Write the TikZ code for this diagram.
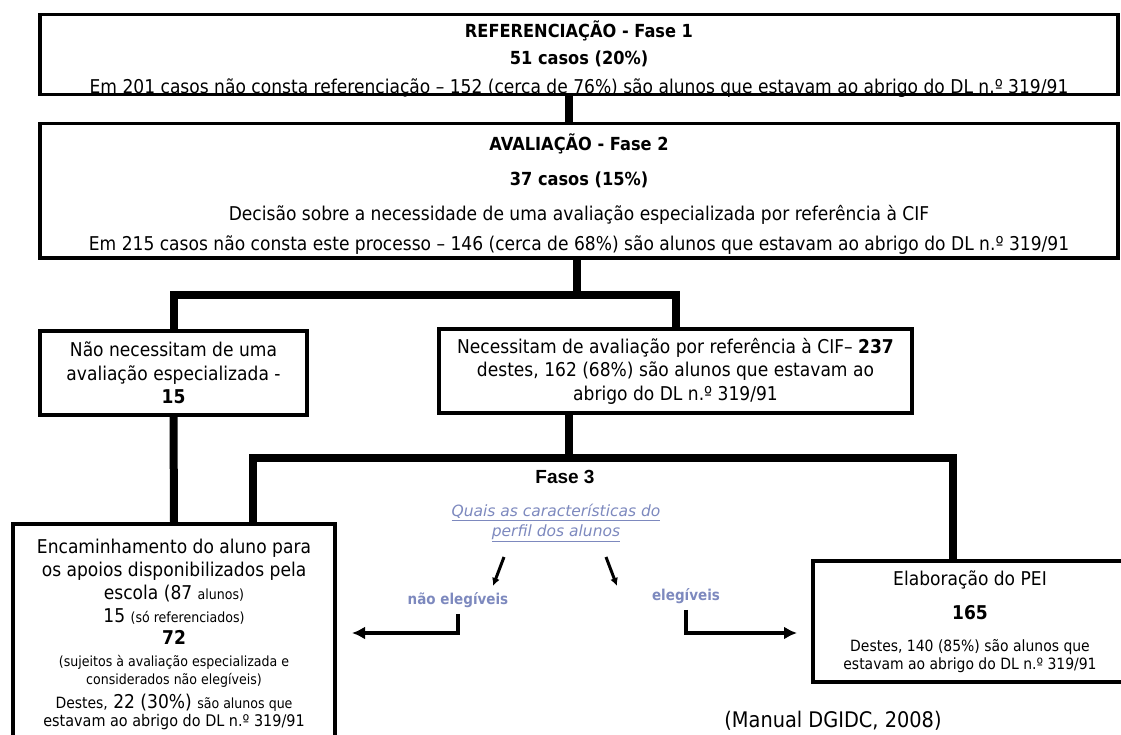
\documentclass[tikz,border=0pt]{standalone}
\usepackage{fontspec}
\setmainfont{DejaVu Sans}[FakeStretch=0.9]
\newfontfamily\arialfont{Liberation Sans}
\newfontfamily\wideit{DejaVu Sans}
\usepackage{xcolor}
\usepackage{tikz}
\usetikzlibrary{arrows}
\usetikzlibrary{arrows.meta}
\tikzset{>=latex}
\definecolor{steel}{RGB}{125,137,190}
\newcommand{\fbase}{\fontsize{19}{23.5}\selectfont}
\newcommand{\fhead}{\fontsize{18}{23.5}\selectfont}
\newcommand{\fmid}{\fontsize{16}{19}\selectfont}
\newcommand{\fnote}{\fontsize{15.5}{19}\selectfont}
\newcommand{\ftiny}{\fontsize{14}{17}\selectfont}
\tikzstyle{box} = [draw, line width=3.5pt, align=center, inner sep=0pt, font=\fbase]
\tikzstyle{bar} = [-, line width=8pt]
\tikzstyle{elbow} = [-{Latex[length=13pt, width=13pt]}, line width=4pt]
\tikzstyle{pick} = [-{Latex[length=8pt, width=8pt]}, line width=3pt]
\tikzstyle{note} = [draw = none, inner sep = 1, text = steel, font=\fontsize{15}{18}\selectfont\bfseries]

\begin{document}
\begin{tikzpicture}[x=1pt, y=-1pt]
\useasboundingbox (0,0) rectangle (1121,735);
\clip (0,0) rectangle (1121,735);
\node [box, minimum width=1078, minimum height=80] (ref) at (579,54.6) {\rule{0pt}{21pt}{\fhead\textbf{REFERENCIAÇÃO - Fase 1}}\\[3.5pt] {\fhead\textbf{51 casos (20\%)}}\\[5.5pt] \smash{Em 201 casos não consta referenciação – 152 (cerca de 76\%) são alunos que estavam ao abrigo do DL n.º 319/91}};
\node [box, minimum width=1078, minimum height=134.5] (aval) at (579,191) {\rule{0pt}{22pt}{\fhead\textbf{AVALIAÇÃO - Fase 2}}\\[11.5pt] {\fhead\textbf{37 casos (15\%)}}\\[11.5pt] Decisão sobre a necessidade de uma avaliação especializada por referência à CIF\\[6.5pt] Em 215 casos não consta este processo – 146 (cerca de 68\%) são alunos que estavam ao abrigo do DL n.º 319/91};
\node [box, minimum width=267, minimum height=84] (nao) at (173.5,373) {Não necessitam de uma\\ avaliação especializada -\\ \textbf{15}};
\node [box, minimum width=473, minimum height=84] (nec) at (675.5,371) {Necessitam de avaliação por referência à CIF– \textbf{237}\\ destes, 162 (68\%) são alunos que estavam ao\\ abrigo do DL n.º 319/91};
\node [box, minimum width=322, minimum height=221] (enc) at (174,634.5) {Encaminhamento do aluno para\\[-0.5pt] os apoios disponibilizados pela\\[-0.5pt] escola (87 {\ftiny alunos)}\\[0pt] 15 {\ftiny (só referenciados)}\\[-1.5pt] \textbf{72}\\[-1.5pt] {\ftiny (sujeitos à avaliação especializada e}\\[-5.5pt] {\ftiny considerados não elegíveis)}\\[0.5pt] {\fnote Destes,} 22 (30\%) {\ftiny são alunos que}\\[-5.5pt] {\fmid estavam ao abrigo do DL n.º 319/91}};
\node [box, minimum width=314, minimum height=121] (pei) at (970,621.5) {Elaboração do PEI\\[10.5pt] \textbf{165}\\[8.5pt] {\fnote Destes, 140 (85\%) são alunos que}\\[-5.5pt] {\fnote estavam ao abrigo do DL n.º 319/91}};
\node [draw = none, font=\arialfont\bfseries\fontsize{19}{22}\selectfont] (fase) at (565,477) {Fase 3};
\node [draw = none, align=center, text = steel, font=\wideit\itshape\fontsize{15.5}{20}\selectfont] (quais) at (556,523) {\underline{Quais as características do}\\ \underline{perfil dos alunos}};
\node [note] (nelig) at (458,600) {não elegíveis};
\node [note] (elig) at (686,596) {elegíveis};
\node [draw = none, font=\fontsize{21.5}{25}\selectfont] (src) at (833,721) {(Manual DGIDC, 2008)};
\coordinate (split) at (577,295);
\coordinate (fork) at (569,458);
\coordinate (nend) at (352,633);
\coordinate (eend) at (797,633);
\coordinate (q1) at (504,557);
\coordinate (q2) at (493,586);
\coordinate (q3) at (606,557);
\coordinate (q4) at (617,586);
\draw [bar] ([xshift=-10]ref.south) to ([xshift=-10]aval.north);
\draw [bar] (aval.south -| split) to (split);
\draw [bar] (nao.north) |- (split) -| (nec.north);
\draw [bar] (nao.south) to (enc.north);
\draw [bar] (nec.south -| fork) to (fork);
\draw [bar] ([xshift=79]enc.north) |- (fork) -| ([xshift=-17]pei.north);
\draw [pick] (q1) to (q2);
\draw [pick] (q3) to (q4);
\draw [elbow] ([yshift=-5]nelig.south) |- (nend);
\draw [elbow] ([yshift=-5]elig.south) |- (eend);
\end{tikzpicture}
\end{document}
